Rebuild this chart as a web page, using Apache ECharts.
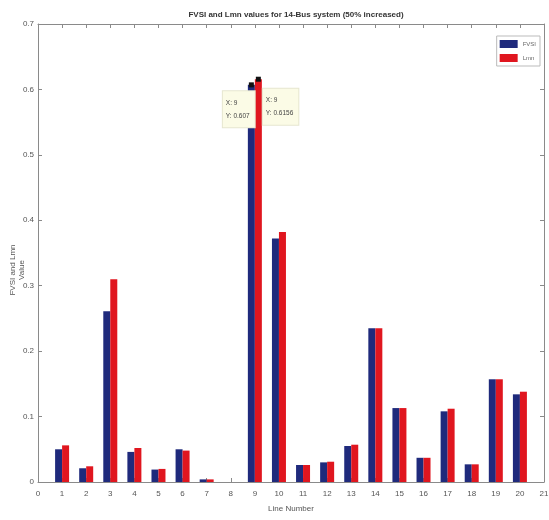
<!DOCTYPE html>
<html>
<head>
<meta charset="utf-8">
<script src="https://cdn.jsdelivr.net/npm/echarts@6/dist/echarts.min.js"></script>
<style>html,body{margin:0;padding:0;background:#fff}#c{width:549px;height:520px}</style>
</head>
<body>
<div id="c"></div>
<script>
const lines = [1,2,3,4,5,6,7,8,9,10,11,12,13,14,15,16,17,18,19,20];
const fvsi = [0.050,0.021,0.261,0.046,0.019,0.050,0.004,0,0.607,0.372,0.026,0.030,0.055,0.235,0.113,0.037,0.108,0.027,0.157,0.134];
const lmn  = [0.056,0.024,0.310,0.052,0.020,0.048,0.004,0,0.6156,0.382,0.026,0.031,0.057,0.235,0.113,0.037,0.112,0.027,0.157,0.138];
const xTicks = [0,1,2,3,4,5,6,7,8,9,10,11,12,13,14,15,16,17,18,19,20,21];
const yTicks = [0,0.1,0.2,0.3,0.4,0.5,0.6,0.7];
const tipIndex = 8;

const chart = echarts.init(document.getElementById('c'));
const axisColor = '#8a8a8a';
const fontFam = 'Liberation Sans Narrow, Liberation Sans, sans-serif';
const labelStyle = {color:'#555', fontSize:8, fontFamily: fontFam};

function seriesData(vals){ return lines.map((x,i)=>[x, vals[i]]); }

function tipLabel(side){
  return {
    show: true,
    position: side === 'left' ? [-26, 9] : [7, 12],
    formatter: p => 'X: ' + p.data.coord[0] + '\nY: ' + p.data.coord[1],
    backgroundColor: '#fbfbe6',
    borderColor: '#e6e6d0',
    borderWidth: 1,
    padding: [5, 5, 5, 3],
    color: '#444',
    fontSize: 6.5,
    lineHeight: 13,
    align: 'left',
    verticalAlign: 'top',
    fontFamily: fontFam
  };
}

function buildSeries(name, vals, color, side){
  return {
    name: name, type: 'bar', data: seriesData(vals), barWidth: 7, barGap: '0%',
    itemStyle: {color: color},
    markPoint: {
      symbol: 'rect', symbolSize: [5,5],
      itemStyle: {color:'#111'},
      label: tipLabel(side),
      data: [{coord: seriesData(vals)[tipIndex]}]
    }
  };
}

chart.setOption({
  animation: false,
  title: {
    text: 'FVSI and Lmn values for 14-Bus system (50% increased)',
    left: 291, top: 6, textAlign: 'center',
    textStyle: {fontSize: 8, fontWeight: 'bold', color: '#333', fontFamily: fontFam}
  },
  legend: {
    right: 9, top: 36, orient: 'vertical',
    itemWidth: 18, itemHeight: 8, itemGap: 6,
    backgroundColor: '#fff', borderColor: '#bbb', borderWidth: 1, padding: [4,4,4,3],
    textStyle: {fontSize: 6, color: '#666'},
    data: [{name:'FVSI', icon:'rect'}, {name:'Lmn', icon:'rect'}]
  },
  grid: {left: 38, right: 5, top: 24, bottom: 38, containLabel: false, outerBoundsMode: 'none'},
  xAxis: [{
    type: 'value', min: 0, max: 21, interval: 1,
    name: 'Line Number', nameLocation: 'middle', nameGap: 23,
    nameTextStyle: {color:'#555', fontSize: 8, fontFamily: fontFam},
    axisLine: {show:true, lineStyle:{color: axisColor}},
    axisTick: {show:true, inside:true, length:4, lineStyle:{color: axisColor}},
    axisLabel: Object.assign({formatter: v => xTicks.includes(v) ? String(v) : ''}, labelStyle),
    splitLine: {show:false}
  },{
    type: 'value', position: 'top', min: 0, max: 21, interval: 1,
    axisLine: {show:true, onZero:false, lineStyle:{color: axisColor}},
    axisTick: {show:true, inside:true, length:4, lineStyle:{color: axisColor}},
    axisLabel: {show:false}, splitLine: {show:false}
  }],
  yAxis: [{
    type: 'value', min: 0, max: 0.7, interval: 0.1,
    name: 'FVSI and Lmn\nValue', nameLocation: 'middle', nameGap: 12, nameRotate: 90,
    nameMoveOverlap: false,
    nameTextStyle: {color:'#555', fontSize: 8, lineHeight: 9, fontFamily: fontFam, padding: [0, 34, 0, 0]},
    axisLine: {show:true, lineStyle:{color: axisColor}},
    axisTick: {show:true, inside:true, length:4, lineStyle:{color: axisColor}},
    axisLabel: Object.assign({margin: 4, formatter: v => String(Math.round(v*10)/10)}, labelStyle),
    splitLine: {show:false}
  },{
    type: 'value', position: 'right', min: 0, max: 0.7, interval: 0.1,
    axisLine: {show:true, onZero:false, lineStyle:{color: axisColor}},
    axisTick: {show:true, inside:true, length:4, lineStyle:{color: axisColor}},
    axisLabel: {show:false}, splitLine: {show:false}
  }],
  series: [
    buildSeries('FVSI', fvsi, '#1f2a7c', 'left'),
    buildSeries('Lmn', lmn, '#e0161f', 'right')
  ]
});
</script>
</body>
</html>
